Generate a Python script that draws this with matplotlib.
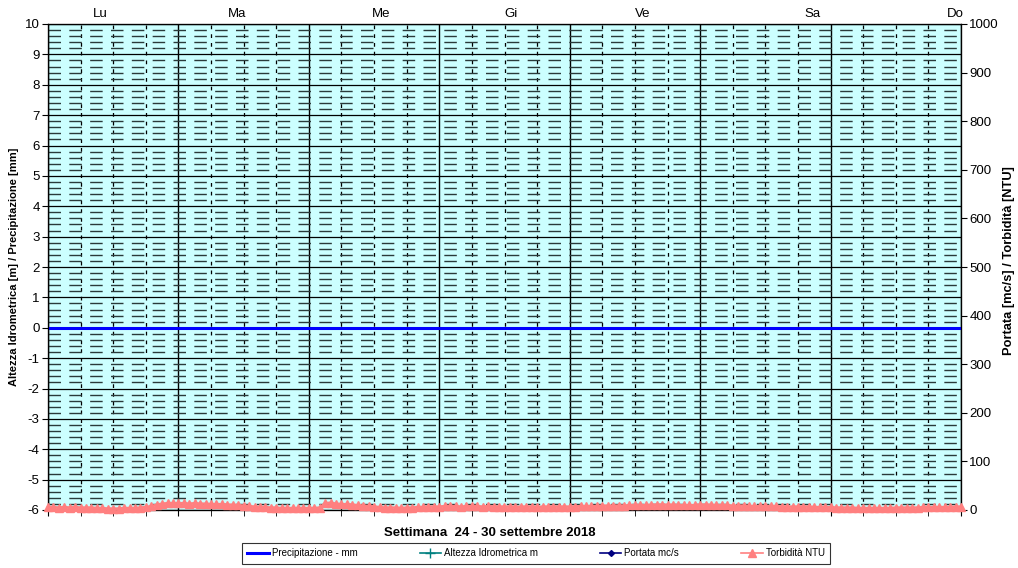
import numpy as np
import matplotlib
matplotlib.use("Agg")
from matplotlib import pyplot as plt
from matplotlib.ticker import MultipleLocator
from matplotlib.lines import Line2D

plt.rcParams['font.family'] = ['Liberation Sans', 'DejaVu Sans']
plt.rcParams['axes.unicode_minus'] = False

# Giorni della settimana (etichette in alto) e posizione in ore
giorni = ['Lu', 'Ma', 'Me', 'Gi', 'Ve', 'Sa', 'Do']
giorni_ore = [9.6, 34.8, 61.3, 85.2, 109.5, 140.6, 166.9]

# Torbidita oraria NTU, 24 - 30 settembre 2018
torb_lu = [6, 6, 5, 6, 5, 6, 5, 5, 5, 4, 4, 3, 3, 3, 4, 4, 4, 5, 6, 8, 11, 13, 14, 14]
torb_ma = [14, 14, 13, 14, 13, 13, 12, 12, 12, 11, 11, 10, 9, 8, 7, 6, 6, 5, 5, 4, 4, 4, 4, 4]
torb_me = [4, 4, 5, 14, 15, 13, 12, 12, 11, 10, 9, 8, 7, 6, 5, 5, 5, 4, 5, 5, 6, 6, 7, 7]
torb_gi = [7, 8, 8, 8, 7, 8, 8, 8, 7, 8, 7, 7, 7, 7, 6, 7, 7, 7, 6, 7, 7, 7, 7, 7]
torb_ve = [7, 7, 8, 8, 8, 8, 9, 9, 9, 9, 9, 10, 10, 10, 10, 11, 11, 11, 11, 11, 10, 10, 10, 10]
torb_sa = [11, 11, 11, 10, 10, 10, 9, 9, 9, 8, 8, 8, 8, 8, 8, 7, 7, 7, 7, 7, 7, 6, 6, 6]
torb_do = [6, 5, 5, 5, 5, 4, 4, 4, 4, 4, 4, 4, 5, 5, 5, 5, 5, 6, 6, 6, 6, 6, 6, 7, 7]
torbidita = torb_lu + torb_ma + torb_me + torb_gi + torb_ve + torb_sa + torb_do
ore = np.arange(len(torbidita))

# Precipitazione oraria mm (nessuna pioggia)
precipitazione = [0] * len(torbidita)

fig = plt.figure(figsize=(10.18, 5.68), dpi=100)
ax = fig.add_axes([48/1018, 58/568, 913/1018, 486/568])
ax.set_facecolor('#CCFFFF')

ax.set_xlim(0, 168)
ax.set_ylim(-6, 10)
ax.yaxis.set_major_locator(MultipleLocator(1))
ax.yaxis.set_minor_locator(MultipleLocator(0.2))
ax.xaxis.set_major_locator(MultipleLocator(24))
ax.xaxis.set_minor_locator(MultipleLocator(6))
ax.set_xticklabels([])
ax.tick_params(axis='x', which='both', direction='out', length=4, color='black')
ax.tick_params(axis='y', which='major', direction='out', length=4, labelsize=9.5, pad=2)
ax.tick_params(axis='y', which='minor', length=0)

# Griglia stile Excel
ax.grid(True, which='major', axis='y', color='black', lw=0.9, ls='-')
ax.grid(True, which='minor', axis='y', color='#2a3a3a', lw=1.0, ls=(0, (9, 6)))
ax.grid(True, which='major', axis='x', color='black', lw=1.0, ls='-')
ax.grid(True, which='minor', axis='x', color='black', lw=0.9, ls=(0, (3, 4)))
ax.set_axisbelow(True)
for s in ax.spines.values():
    s.set_color('black')
    s.set_linewidth(0.9)

ax.plot(ore, precipitazione, color='#0000FF', lw=2.2, zorder=3)

ax.set_ylabel('Altezza Idrometrica [m] / Precipitazione [mm]', fontsize=8,
              fontweight='bold', labelpad=4)
ax.set_xlabel('Settimana  24 - 30 settembre 2018', fontsize=9.5,
              fontweight='bold', labelpad=6)
ax.xaxis.set_label_coords((490 - 48) / 913, -0.035)

# Etichette giorni in alto
for g, h in zip(giorni, giorni_ore):
    ax.text(h, 10.12, g, ha='center', va='bottom', fontsize=9.5)

ax2 = ax.twinx()
ax2.set_ylim(0, 1000)
ax2.yaxis.set_major_locator(MultipleLocator(100))
ax2.tick_params(axis='y', direction='out', length=4, labelsize=9.5, pad=2)
ax2.plot(ore, torbidita, color='#FF8080', lw=1.8, marker='^', ms=5.5,
         mec='#FF8080', mfc='#FF8080', clip_on=False, zorder=4)
ax2.set_ylabel('Portata [mc/s] / Torbidità [NTU]', fontsize=9.3,
               fontweight='bold')
ax2.yaxis.set_label_coords(1 + (1003 - 961) / 913, 0.514)

handles = [
    Line2D([], [], color='#0000FF', lw=2.2),
    Line2D([], [], color='#008080', lw=1.2, marker='+', ms=7),
    Line2D([], [], color='#000080', lw=1.2, marker='D', ms=3),
    Line2D([], [], color='#FF8080', lw=1.2, marker='^', ms=6),
]
labels = ['Precipitazione - mm', 'Altezza Idrometrica m', 'Portata mc/s', 'Torbidità NTU']
leg = fig.legend(handles, labels, loc='center', ncol=4, fontsize=7,
                 bbox_to_anchor=(242/1018, 1 - 566/568, 588/1018, 25/568),
                 mode='expand', frameon=True, fancybox=False,
                 edgecolor='black', handlelength=2.2, handletextpad=0.3,
                 borderpad=0.55, borderaxespad=0)
leg.get_frame().set_linewidth(0.8)

plt.savefig('out.png', dpi=100)
